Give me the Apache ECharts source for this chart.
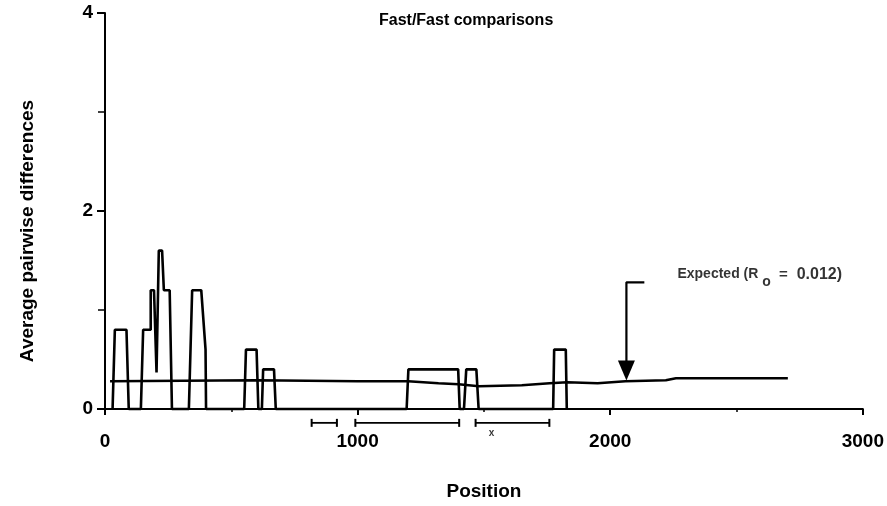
<!DOCTYPE html>
<html><head><meta charset="utf-8">
<script src="https://cdn.jsdelivr.net/npm/echarts@6/dist/echarts.min.js"></script>
<style>html,body{margin:0;padding:0;background:#fff}#c{width:887px;height:506px}</style>
</head><body><div id="c"></div><script>
// ---- data ----
const chartTitle = 'Fast/Fast comparisons';
const xAxisName = 'Position';
const yAxisName = 'Average pairwise differences';
const xRange = [0, 3000];
const yRange = [0, 4];
// observed profile outline (position, average pairwise differences)
const profilePos = [30, 39, 85, 94,
  142, 151, 181, 181, 194, 204, 213, 226, 233, 256, 265,
  332, 345, 381, 398, 400,
  551, 558, 600, 607,
  621, 626, 669, 676,
  1194, 1201, 1398, 1404,
  1421, 1430, 1470, 1479,
  1774, 1778, 1824, 1828];
const profileVal = [0, 0.8, 0.8, 0,
  0, 0.8, 0.8, 1.2, 1.2, 0.37, 1.6, 1.6, 1.2, 1.2, 0,
  0, 1.2, 1.2, 0.6, 0,
  0, 0.6, 0.6, 0,
  0, 0.4, 0.4, 0,
  0, 0.4, 0.4, 0,
  0, 0.4, 0.4, 0,
  0, 0.6, 0.6, 0];
// expected curve
const expectedPos = [20, 600, 1000, 1200, 1320, 1400, 1480, 1650, 1760, 1830, 1950, 2060, 2220, 2260, 2703];
const expectedVal = [0.28, 0.29, 0.28, 0.28, 0.26, 0.25, 0.23, 0.24, 0.26, 0.27, 0.26, 0.28, 0.29, 0.31, 0.31];
// annotation arrow
const arrowPos = [2135, 2064, 2064];
const arrowVal = [1.28, 1.28, 0.39];
const noteAt = [2266, 1.36];
// interval brackets under the axis
const bracketStart = [818, 991, 1467];
const bracketEnd = [918, 1402, 1759];
const bracketLevel = -0.14;
const markAt = [1530, -0.24];

const zip = (a, b) => a.map((v, i) => [v, b[i]]);
const FONT = 'Liberation Sans, Arial, Helvetica, sans-serif';

const chart = echarts.init(document.getElementById('c'), null, {renderer: 'canvas'});

const series = [
  {type: 'line', data: zip(profilePos, profileVal), symbol: 'none', clip: false,
   lineStyle: {color: '#000', width: 2.6}, z: 3},
  {type: 'line', data: zip(expectedPos, expectedVal), symbol: 'none', clip: false,
   lineStyle: {color: '#000', width: 2.6}, z: 3},
  {type: 'line', symbol: 'none', clip: false,
   data: zip(arrowPos, arrowVal).map((p, i, arr) => i === arr.length - 1
     ? {value: p, symbol: 'triangle', symbolSize: [17, 20], symbolRotate: 180, itemStyle: {color: '#000'}}
     : {value: p}),
   showSymbol: true,
   lineStyle: {color: '#000', width: 2.2}, z: 4},
  {type: 'scatter', data: [noteAt], symbolSize: 0, clip: false,
   label: {show: true, position: 'right', distance: 0,
     formatter: '{a|Expected (R}{s|o}{e|=}{b|0.012)}',
     rich: {
       a: {fontFamily: FONT, fontSize: 14, fontWeight: 'bold', color: '#000', lineHeight: 18},
       s: {fontFamily: FONT, fontSize: 14, fontWeight: 'bold', color: '#000', padding: [16, 6, 0, 4]},
       e: {fontFamily: FONT, fontSize: 15, fontWeight: 'bold', color: '#000', padding: [0, 9, 0, 2]},
       b: {fontFamily: FONT, fontSize: 16, fontWeight: 'bold', color: '#000'}
     }}},
  {type: 'scatter', data: [markAt], symbolSize: 0, clip: false,
   label: {show: true, position: 'inside', formatter: 'x', fontFamily: FONT, fontSize: 10, fontWeight: 'bold', color: '#000'}}
];
bracketStart.forEach((s, i) => {
  series.push({type: 'line', clip: false, data: [[s, bracketLevel], [bracketEnd[i], bracketLevel]],
    symbol: 'rect', symbolSize: [2, 8], showSymbol: true, itemStyle: {color: '#000'},
    lineStyle: {color: '#000', width: 1.8}});
});

chart.setOption({
  animation: false,
  backgroundColor: '#fff',
  title: {text: chartTitle, left: 374, top: 8,
    textStyle: {fontFamily: FONT, fontSize: 16, fontWeight: 'bold', color: '#000'}},
  grid: {left: 105, right: 20, top: 13, bottom: 95},
  xAxis: {type: 'value', min: xRange[0], max: xRange[1], interval: 1000,
    name: xAxisName, nameLocation: 'middle', nameGap: 73,
    nameTextStyle: {fontFamily: FONT, fontSize: 19, fontWeight: 'bold', color: '#000'},
    axisLine: {show: true, lineStyle: {color: '#000', width: 2}},
    axisTick: {show: true, length: 6, lineStyle: {color: '#000', width: 2}},
    minorTick: {show: true, splitNumber: 2, length: 3, lineStyle: {color: '#000', width: 1.5}},
    splitLine: {show: false},
    axisLabel: {margin: 23, fontFamily: FONT, fontSize: 19, fontWeight: 'bold', color: '#000',
      formatter: v => String(v)}},
  yAxis: {type: 'value', min: yRange[0], max: yRange[1], interval: 2,
    name: yAxisName, nameLocation: 'middle', nameGap: 68, nameRotate: 90,
    nameTextStyle: {fontFamily: FONT, fontSize: 19, fontWeight: 'bold', color: '#000', padding: [0, 40, 0, 0]},
    axisLine: {show: true, lineStyle: {color: '#000', width: 2}},
    axisTick: {show: true, length: 8, lineStyle: {color: '#000', width: 2}},
    minorTick: {show: true, splitNumber: 2, length: 7, lineStyle: {color: '#000', width: 1.5}},
    splitLine: {show: false},
    axisLabel: {margin: 12, fontFamily: FONT, fontSize: 19, fontWeight: 'bold', color: '#000'}},
  series: series
});
</script></body></html>
